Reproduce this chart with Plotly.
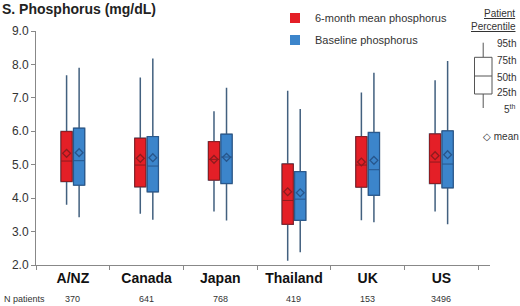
import plotly.graph_objects as go

categories = ["A/NZ", "Canada", "Japan", "Thailand", "UK", "US"]
n_patients = [370, 641, 768, 419, 153, 3496]

# 6-month mean phosphorus (red)
m6_p5 = [3.80, 3.53, 3.60, 2.13, 3.34, 3.60]
m6_q1 = [4.50, 4.34, 4.54, 3.22, 4.33, 4.44]
m6_med = [5.11, 4.99, 5.16, 3.93, 4.99, 5.08]
m6_q3 = [5.99, 5.79, 5.69, 5.02, 5.84, 5.92]
m6_p95 = [7.68, 7.61, 6.60, 7.21, 7.16, 7.53]
m6_mean = [5.34, 5.19, 5.16, 4.19, 5.08, 5.27]

# Baseline phosphorus (blue)
bl_p5 = [3.43, 3.35, 3.33, 2.38, 3.28, 3.22]
bl_q1 = [4.39, 4.19, 4.44, 3.34, 4.09, 4.31]
bl_med = [5.12, 4.96, 5.23, 3.97, 4.85, 5.02]
bl_q3 = [6.09, 5.84, 5.91, 4.79, 5.96, 6.01]
bl_p95 = [7.90, 8.18, 7.30, 6.67, 7.75, 8.10]
bl_mean = [5.36, 5.21, 5.22, 4.16, 5.13, 5.30]

y_ticks = [2, 3, 4, 5, 6, 7, 8, 9]
legend_pct = ["95th", "75th", "50th", "25th", "5<sup>th</sup>"]

FONT = "Liberation Sans, Arial, sans-serif"
RED = "#E41F27"
BLUE = "#3C85CB"
RED_EDGE = "#8E1B1E"
BLUE_EDGE = "#27568C"
WHISK = "#42607F"

W, H = 520, 306
L, R, T, B = 36, 30, 31, 41
PW = W - L - R
PH = H - T - B


def px(x):
    return (x - L) / PW


def py(y):
    return (H - B - y) / PH


fig = go.Figure()
xs = list(range(len(categories)))
series = [
    ("6-month mean phosphorus", -0.085, RED, RED_EDGE, m6_p5, m6_q1, m6_med, m6_q3, m6_p95, m6_mean),
    ("Baseline phosphorus", 0.085, BLUE, BLUE_EDGE, bl_p5, bl_q1, bl_med, bl_q3, bl_p95, bl_mean),
]
for name, off, col, edge, p5, q1, med, q3, p95, mean in series:
    xpos = [x + off for x in xs]
    fig.add_trace(go.Box(
        x=xpos, q1=q1, median=med, q3=q3, lowerfence=p5, upperfence=p95,
        width=0.15, whiskerwidth=0, fillcolor=col,
        line=dict(color=WHISK, width=1.5), showlegend=False, hoverinfo="skip",
    ))
    fig.add_trace(go.Box(
        x=xpos, q1=q1, median=med, q3=q3, lowerfence=q1, upperfence=q3,
        width=0.15, whiskerwidth=0, fillcolor=col,
        line=dict(color=edge, width=1), showlegend=False, hoverinfo="skip",
    ))
    fig.add_trace(go.Scatter(
        x=xpos, y=mean, mode="markers",
        marker=dict(symbol="diamond-open", size=6, color=edge, line=dict(width=1.3, color=edge)),
        showlegend=False, hoverinfo="skip",
    ))

for i, (name, off, col, edge, *_rest) in enumerate(series):
    fig.add_trace(go.Scatter(
        x=[None], y=[None], mode="markers", name=name, legendgroup=f"g{i}",
        marker=dict(symbol="square", size=10, color=col),
    ))

annotations = []
annotations.append(dict(text="N patients", x=px(2), y=py(299), xref="paper", yref="paper",
                        xanchor="left", yanchor="middle", showarrow=False,
                        font=dict(size=9, color="#333333", family=FONT)))
for x, n in zip(xs, n_patients):
    annotations.append(dict(text=str(n), x=x, y=py(299), xref="x", yref="paper",
                            xanchor="center", yanchor="middle", showarrow=False,
                            font=dict(size=9, color="#333333", family=FONT)))

# percentile key
shapes = []
kx0, kx1, kxc = 474.5, 492, 483.2
ky = [42.7, 57.3, 76, 94, 108]
shapes.append(dict(type="line", xref="paper", yref="paper", x0=px(kxc), x1=px(kxc), y0=py(ky[0]), y1=py(ky[1]),
                   line=dict(color="#555555", width=1)))
shapes.append(dict(type="line", xref="paper", yref="paper", x0=px(kxc), x1=px(kxc), y0=py(ky[3]), y1=py(ky[4]),
                   line=dict(color="#555555", width=1)))
shapes.append(dict(type="rect", xref="paper", yref="paper", x0=px(kx0), x1=px(kx1), y0=py(ky[3]), y1=py(ky[1]),
                   line=dict(color="#555555", width=1), fillcolor="white"))
shapes.append(dict(type="line", xref="paper", yref="paper", x0=px(kx0), x1=px(kx1), y0=py(ky[2]), y1=py(ky[2]),
                   line=dict(color="#555555", width=1)))
label_y = [43, 60, 77, 93, 109]
for t, yy in zip(legend_pct, label_y):
    annotations.append(dict(text=t, x=px(518), y=py(yy), xref="paper", yref="paper",
                            xanchor="right", yanchor="middle", showarrow=False,
                            font=dict(size=10, color="#333333", family=FONT)))
annotations.append(dict(text="<u>Patient</u>", x=px(517), y=py(13), xref="paper", yref="paper",
                        xanchor="right", yanchor="middle", showarrow=False,
                        font=dict(size=10, color="#333333", family=FONT)))
annotations.append(dict(text="<u>Percentile</u>", x=px(518), y=py(26), xref="paper", yref="paper",
                        xanchor="right", yanchor="middle", showarrow=False,
                        font=dict(size=10, color="#333333", family=FONT)))
annotations.append(dict(text="\u25C7 mean", x=px(481), y=py(136), xref="paper", yref="paper",
                        xanchor="left", yanchor="middle", showarrow=False,
                        font=dict(size=10, color="#333333", family=FONT)))

fig.update_layout(
    width=W, height=H,
    margin=dict(l=L, r=R, t=T, b=B, pad=0, autoexpand=False),
    paper_bgcolor="white", plot_bgcolor="white",
    boxmode="overlay",
    font=dict(family=FONT, color="#333333"),
    title=dict(text="<b>S. Phosphorus (mg/dL)</b>", x=2 / W, xref="container", xanchor="left",
               y=1 - 9.5 / H, yref="container", yanchor="middle",
               font=dict(size=14, color="#222222", family=FONT)),
    xaxis=dict(
        range=[-0.5, 5.66], tickmode="array", tickvals=xs,
        ticktext=[f"<b>{c}</b>" for c in categories],
        ticks="", showgrid=False, zeroline=False, showline=True, linecolor="#888888", linewidth=1,
        tickfont=dict(size=14, color="#111111", family=FONT),
        minor=dict(tickmode="array", tickvals=[x + 0.5 for x in range(-1, 6)], ticks="outside",
                   ticklen=4, tickcolor="#888888", showgrid=False),
    ),
    yaxis=dict(
        range=[2, 9], tickmode="array", tickvals=y_ticks, ticktext=[f"{v:.1f}" for v in y_ticks],
        ticks="outside", ticklen=4, tickcolor="#888888", showgrid=False, zeroline=False,
        showline=True, linecolor="#888888", linewidth=1,
        tickfont=dict(size=12, color="#333333", family=FONT),
    ),
    legend=dict(x=px(275), y=py(3.5), xanchor="left", yanchor="top", bgcolor="rgba(0,0,0,0)",
                font=dict(size=11, color="#333333", family=FONT), traceorder="grouped",
                tracegroupgap=3, itemwidth=30),
    annotations=annotations, shapes=shapes,
)

fig.write_html("out.html", config={"displayModeBar": False},
               post_script="document.body.style.margin='0';document.body.style.overflow='hidden';")
